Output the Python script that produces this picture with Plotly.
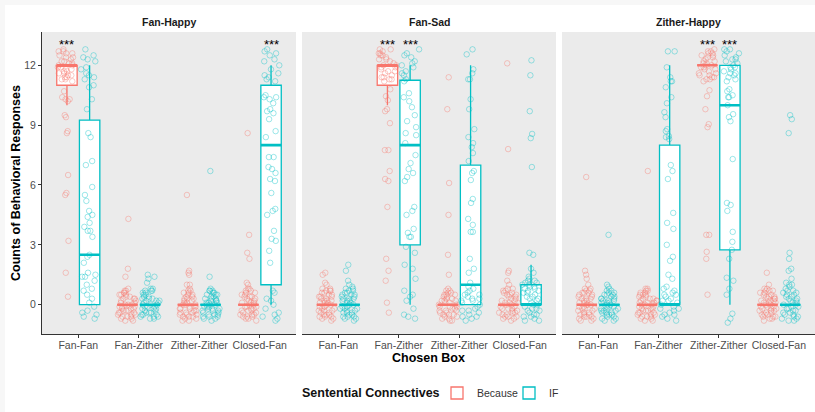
import plotly.graph_objects as go

CATEGORIES = ["Fan-Fan", "Fan-Zither", "Zither-Zither", "Closed-Fan"]
FACETS = ["Fan-Happy", "Fan-Sad", "Zither-Happy"]
GROUPS = ["Because", "IF"]
Y_TICKS = [0, 3, 6, 9, 12]
LEGEND_TITLE = "Sentential Connectives"

# ---------- box statistics (per facet, per connective; order = CATEGORIES) ----------
fh_because_q1 = [11, 0, 0, 0]
fh_because_med = [12, 0, 0, 0]
fh_because_q3 = [12, 0, 0, 0]
fh_because_lo = [10, 0, 0, 0]
fh_because_hi = [12, 0, 0, 0]
fh_if_q1 = [0, 0, 0, 1]
fh_if_med = [2.5, 0, 0, 8]
fh_if_q3 = [9.25, 0, 0, 11]
fh_if_lo = [0, 0, 0, 0]
fh_if_hi = [12, 0, 0, 12]

fs_because_q1 = [0, 11, 0, 0]
fs_because_med = [0, 12, 0, 0]
fs_because_q3 = [0, 12, 0, 0]
fs_because_lo = [0, 10, 0, 0]
fs_because_hi = [0, 12, 0, 0]
fs_if_q1 = [0, 3, 0, 0]
fs_if_med = [0, 8, 1, 0]
fs_if_q3 = [0, 11.25, 7, 1]
fs_if_lo = [0, 0, 0, 0]
fs_if_hi = [0, 12, 12, 2]

zh_because_q1 = [0, 0, 12, 0]
zh_because_med = [0, 0, 12, 0]
zh_because_q3 = [0, 0, 12, 0]
zh_because_lo = [0, 0, 12, 0]
zh_because_hi = [0, 0, 12, 0]
zh_if_q1 = [0, 0, 2.75, 0]
zh_if_med = [0, 0, 10, 0]
zh_if_q3 = [0, 8, 12, 0]
zh_if_lo = [0, 0, 0, 0]
zh_if_hi = [0, 12, 12, 0]

# ---------- individual responses as plotted ----------
fh_because_fanfan = [12.7,12.6,12.8,12.5,12.4,12.3,12.2,12.1,12.0,11.9,11.9,11.8,11.7,11.6,11.5,11.5,11.4,11.3,11.2,12.6,12.4,12.2,12.0,11.8,11.6,11.3,12.7,12.1,11.7,11.4,10.7,10.4,10.3,10.3,10.2,9.5,9.4,8.7,8.6,6.5,5.6,5.5,3.2,1.6,0.4]
fh_if_fanfan = [12.8,12.5,12.4,12.3,12.2,11.9,11.8,11.6,11.5,11.4,11.3,11.0,10.9,10.3,9.8,8.6,8.4,7.2,7.0,5.9,5.5,5.2,4.7,4.5,4.4,4.1,3.9,3.7,3.7,3.4,2.5,2.4,2.1,1.6,1.5,1.4,1.4,1.2,1.0,0.8,0.7,0.5,0.3,0.1,-0.1,-0.3,-0.4,-0.5,-0.6,-0.7]
fh_because_fanzither = [4.3,1.8,1.4,0.8,0.7,0.6,0.5,0.5,0.4,0.3,0.3,0.2,0.1,0.1,0.0,0.0,-0.1,-0.1,-0.2,-0.2,-0.3,-0.3,-0.4,-0.4,-0.5,-0.5,-0.6,-0.6,-0.7,-0.7,-0.8,0.7,0.6,0.4,0.2,-0.1,-0.3,-0.5,-0.6,-0.8,0.5,0.3,-0.2,-0.4,0.0]
fh_if_fanzither = [1.5,1.4,1.3,1.1,0.8,0.7,0.7,0.6,0.5,0.4,0.3,0.3,0.2,0.1,0.0,-0.1,-0.1,-0.2,-0.3,-0.4,-0.4,-0.5,-0.6,-0.6,-0.7,-0.7,0.6,0.4,0.2,0.0,-0.2,-0.5,-0.6,0.8,0.5,0.1,-0.3,-0.5,0.7,-0.1,0.3,-0.4,0.0,0.2,-0.2]
fh_because_zitherzither = [5.5,1.7,1.6,1.5,1.0,1.0,0.8,0.7,0.6,0.6,0.5,0.4,0.3,0.3,0.2,0.1,0.0,0.0,-0.1,-0.2,-0.2,-0.3,-0.4,-0.4,-0.5,-0.5,-0.6,-0.6,-0.7,-0.8,0.7,0.5,0.2,-0.1,-0.3,-0.5,-0.7,0.4,0.1,-0.2,-0.6,0.3,0.0,-0.4,-0.8]
fh_if_zitherzither = [6.7,1.4,0.8,0.7,0.7,0.6,0.5,0.5,0.4,0.3,0.3,0.2,0.1,0.1,0.0,-0.1,-0.1,-0.2,-0.3,-0.3,-0.4,-0.5,-0.5,-0.6,-0.7,-0.7,-0.8,0.6,0.4,0.2,0.0,-0.2,-0.4,-0.6,0.5,0.3,0.0,-0.3,-0.5,0.7,0.1,-0.2,-0.6,0.2,-0.1]
fh_because_closedfan = [8.6,3.5,2.6,2.3,1.1,1.0,0.8,0.7,0.7,0.6,0.5,0.4,0.4,0.3,0.2,0.1,0.1,0.0,-0.1,-0.1,-0.2,-0.3,-0.3,-0.4,-0.5,-0.5,-0.6,-0.7,-0.7,-0.8,0.6,0.3,0.0,-0.2,-0.4,-0.6,0.5,0.2,-0.1,-0.5,0.8,-0.3,0.1,-0.6,0.4]
fh_if_closedfan = [12.8,12.7,12.6,12.5,12.3,12.2,12.0,11.8,11.6,11.5,11.4,11.3,11.2,10.5,10.4,10.3,10.4,10.1,9.8,9.7,9.6,9.3,8.7,8.4,7.4,7.4,6.9,6.8,6.6,6.3,6.2,5.6,4.8,4.7,4.5,3.7,3.3,3.2,2.7,2.1,0.7,0.6,0.3,0.2,0.0,-0.2,-0.4,-0.5,-0.6,-0.7,-0.8]

fs_because_fanfan = [1.6,1.5,1.1,1.0,0.8,0.7,0.7,0.6,0.5,0.4,0.4,0.3,0.2,0.1,0.1,0.0,-0.1,-0.1,-0.2,-0.3,-0.3,-0.4,-0.5,-0.5,-0.6,-0.6,-0.7,-0.8,0.6,0.5,0.3,0.2,0.0,-0.2,-0.4,-0.6,0.7,0.4,0.1,-0.3,-0.5,0.8,-0.1,-0.7,0.2]
fs_if_fanfan = [2.0,1.7,1.2,1.0,0.9,0.8,0.7,0.6,0.5,0.5,0.4,0.3,0.2,0.2,0.1,0.0,-0.1,-0.2,-0.2,-0.3,-0.4,-0.4,-0.5,-0.6,-0.6,-0.7,-0.7,-0.8,0.6,0.4,0.3,0.1,-0.1,-0.3,-0.5,0.7,0.5,0.2,0.0,-0.2,-0.6,0.8,0.3,-0.4,-0.1]
fs_because_fanzither = [12.8,12.8,12.7,12.6,12.5,12.4,12.3,12.2,12.1,12.0,11.9,11.8,11.7,11.6,11.5,11.4,11.3,11.2,12.6,12.3,12.0,11.7,11.4,12.5,11.9,11.3,10.45,10.25,10.8,9.8,9.7,9.1,7.75,7.75,6.7,6.3,6.2,4.9,2.3,1.7,1.2,0.1,-0.4]
fs_if_fanzither = [12.8,12.6,12.5,12.4,12.2,12.1,12.0,11.9,11.7,11.6,11.5,11.3,11.2,10.6,10.4,10.2,9.9,9.5,9.2,8.9,8.6,8.5,8.1,7.5,7.1,6.8,6.6,6.4,6.2,4.9,4.7,4.5,3.8,3.6,3.4,3.4,2.9,2.6,2.0,1.8,1.3,0.7,0.5,0.4,0.2,-0.2,-0.5,-0.6,-0.7]
fs_because_zitherzither = [11.4,9.8,6.1,4.5,2.5,1.5,0.8,0.7,0.6,0.5,0.5,0.4,0.3,0.2,0.2,0.1,0.0,-0.1,-0.1,-0.2,-0.3,-0.3,-0.4,-0.5,-0.5,-0.6,-0.7,-0.7,-0.8,0.6,0.4,0.1,-0.2,-0.4,-0.6,0.7,0.3,0.0,-0.3,-0.5,0.5,-0.1,-0.8,0.2]
fs_if_zitherzither = [12.8,12.55,11.8,11.6,11.3,11.3,10.3,9.8,8.8,8.4,8.1,7.9,7.6,7.2,6.7,6.6,6.25,5.3,5.1,4.3,4.0,3.65,3.65,2.3,1.8,1.6,1.1,0.9,0.8,0.7,0.6,0.5,0.4,0.3,0.2,0.1,0.0,-0.1,-0.2,-0.3,-0.4,-0.5,-0.6,-0.7,-0.8,0.5,0.2,-0.3,-0.6,0.3]
fs_because_closedfan = [12.1,7.8,1.7,1.6,1.2,1.0,0.8,0.7,0.6,0.5,0.5,0.4,0.3,0.2,0.1,0.1,0.0,-0.1,-0.2,-0.2,-0.3,-0.4,-0.4,-0.5,-0.6,-0.6,-0.7,-0.8,0.7,0.4,0.2,0.0,-0.2,-0.5,0.6,0.3,-0.1,-0.3,-0.7,0.5,0.1,-0.4,-0.6,0.8]
fs_if_closedfan = [12.25,11.5,9.7,8.56,8.35,6.9,2.6,2.5,1.8,1.6,1.4,1.3,1.2,1.1,1.0,0.9,0.8,0.7,0.6,1.2,1.0,0.8,0.5,0.4,0.3,0.2,0.1,0.0,-0.1,-0.2,-0.3,-0.4,-0.5,-0.6,-0.7,-0.8,0.6,0.3,0.0,-0.3,-0.6,-0.8,0.4,-0.2,-0.5,0.9,1.1,0.7]

zh_because_fanfan = [6.4,1.7,1.5,1.3,1.0,0.8,0.7,0.6,0.6,0.5,0.4,0.3,0.3,0.2,0.1,0.0,0.0,-0.1,-0.2,-0.2,-0.3,-0.4,-0.5,-0.5,-0.6,-0.7,-0.7,-0.8,0.7,0.5,0.2,0.0,-0.2,-0.4,-0.6,0.6,0.4,0.1,-0.3,-0.5,0.8,-0.1,-0.6,0.3,-0.8]
zh_if_fanfan = [3.5,1.0,0.9,0.8,0.7,0.6,0.5,0.5,0.4,0.3,0.2,0.2,0.1,0.0,-0.1,-0.1,-0.2,-0.3,-0.3,-0.4,-0.5,-0.5,-0.6,-0.7,-0.7,-0.8,0.6,0.4,0.3,0.1,-0.1,-0.3,-0.4,-0.6,0.5,0.2,0.0,-0.2,-0.5,0.7,0.3,-0.4,-0.8,0.1,-0.2]
zh_because_fanzither = [6.7,0.8,0.8,0.7,0.6,0.5,0.5,0.4,0.3,0.2,0.2,0.1,0.0,0.0,-0.1,-0.2,-0.2,-0.3,-0.4,-0.4,-0.5,-0.6,-0.6,-0.7,-0.8,-0.8,0.6,0.4,0.3,0.1,-0.1,-0.3,-0.5,-0.7,0.7,0.5,0.2,-0.2,-0.4,-0.6,0.3,0.0,-0.3,-0.5,0.1]
zh_if_fanzither = [12.7,12.7,11.9,11.4,11.2,11.2,10.9,10.4,10.1,9.65,9.4,8.8,8.7,8.45,8.4,8.3,7.0,6.7,6.3,4.6,4.1,3.8,3.0,2.4,2.2,1.5,1.3,0.9,0.8,0.7,0.6,0.5,0.4,0.3,0.2,0.1,0.0,-0.1,-0.2,-0.3,-0.4,-0.5,-0.6,-0.7,-0.8,0.5,0.2,-0.2,-0.5]
zh_because_zitherzither = [12.8,12.7,12.6,12.6,12.5,12.4,12.3,12.2,12.1,12.0,12.0,11.9,11.8,11.7,11.6,11.5,11.4,11.3,11.2,12.7,12.4,12.1,11.8,11.5,11.3,12.5,12.2,11.9,11.6,11.4,10.75,10.45,9.8,8.9,9.05,3.5,3.5,2.65,2.3,0.5]
zh_if_zitherzither = [12.8,12.8,12.6,12.5,12.4,12.3,12.2,12.1,12.0,11.9,11.8,11.7,11.6,11.5,11.4,11.3,11.2,12.7,12.3,11.9,11.6,10.8,10.7,10.5,10.4,10.4,10.0,9.55,9.4,9.2,7.3,5.1,5.0,4.7,3.65,3.15,2.75,2.3,1.35,1.2,0.8,0.5,-0.45,-0.7,-0.9]
zh_because_closedfan = [1.6,1.0,0.8,0.7,0.7,0.6,0.5,0.4,0.4,0.3,0.2,0.1,0.1,0.0,-0.1,-0.1,-0.2,-0.3,-0.3,-0.4,-0.5,-0.5,-0.6,-0.7,-0.7,-0.8,0.6,0.5,0.3,0.2,0.0,-0.2,-0.4,-0.6,0.7,0.4,0.1,-0.3,-0.5,0.8,-0.1,-0.6,0.2,-0.2,0.3]
zh_if_closedfan = [9.5,9.3,8.6,2.6,2.3,1.8,1.7,1.3,1.1,1.0,0.9,0.8,0.7,0.6,0.5,0.4,0.3,0.2,0.1,0.0,-0.1,-0.2,-0.3,-0.4,-0.5,-0.6,-0.7,-0.8,0.6,0.4,0.2,0.0,-0.2,-0.4,-0.6,0.7,1.0,0.3,-0.1,-0.3,-0.5,-0.7,0.5,0.1,-0.8]

# significance markers: (facet index, category, group)
STAR_FACETS = [0, 0, 1, 1, 2, 2]
STAR_CATS = ["Fan-Fan", "Closed-Fan", "Fan-Zither", "Fan-Zither", "Zither-Zither", "Zither-Zither"]
STAR_GROUPS = ["Because", "IF", "Because", "IF", "Because", "IF"]
STAR_TEXT = "***"

# ---------- assemble ----------
stats = {
    (0, "Because"): (fh_because_q1, fh_because_med, fh_because_q3, fh_because_lo, fh_because_hi),
    (0, "IF"): (fh_if_q1, fh_if_med, fh_if_q3, fh_if_lo, fh_if_hi),
    (1, "Because"): (fs_because_q1, fs_because_med, fs_because_q3, fs_because_lo, fs_because_hi),
    (1, "IF"): (fs_if_q1, fs_if_med, fs_if_q3, fs_if_lo, fs_if_hi),
    (2, "Because"): (zh_because_q1, zh_because_med, zh_because_q3, zh_because_lo, zh_because_hi),
    (2, "IF"): (zh_if_q1, zh_if_med, zh_if_q3, zh_if_lo, zh_if_hi),
}
points = {
    (0, "Because"): [fh_because_fanfan, fh_because_fanzither, fh_because_zitherzither, fh_because_closedfan],
    (0, "IF"): [fh_if_fanfan, fh_if_fanzither, fh_if_zitherzither, fh_if_closedfan],
    (1, "Because"): [fs_because_fanfan, fs_because_fanzither, fs_because_zitherzither, fs_because_closedfan],
    (1, "IF"): [fs_if_fanfan, fs_if_fanzither, fs_if_zitherzither, fs_if_closedfan],
    (2, "Because"): [zh_because_fanfan, zh_because_fanzither, zh_because_zitherzither, zh_because_closedfan],
    (2, "IF"): [zh_if_fanfan, zh_if_fanzither, zh_if_zitherzither, zh_if_closedfan],
}

COLORS = {"Because": "#F8766D", "IF": "#00BFC4"}
PT_COLORS = {"Because": "rgba(248,118,109,0.38)", "IF": "rgba(0,191,196,0.38)"}
FONT = "Liberation Sans, Arial, sans-serif"

fig = go.Figure()
for f in range(3):
    xa = "x" if f == 0 else f"x{f+1}"
    ya = "y" if f == 0 else f"y{f+1}"
    for g in GROUPS:
        q1, med, q3, lo, hi = stats[(f, g)]
        fig.add_trace(go.Box(
            x=CATEGORIES, q1=q1, median=med, q3=q3, lowerfence=lo, upperfence=hi,
            name=g, legendgroup=g, showlegend=(f == 0), offsetgroup=g,
            xaxis=xa, yaxis=ya, boxpoints=False,
            line=dict(color=COLORS[g], width=1.3), fillcolor="white",
            whiskerwidth=0, hoverinfo="skip"))
    for g in GROUPS:
        _, med, _, _, _ = stats[(f, g)]
        fig.add_trace(go.Box(
            x=CATEGORIES, q1=med, median=med, q3=med, lowerfence=med, upperfence=med,
            name=g, legendgroup=g, showlegend=False, offsetgroup=g,
            xaxis=xa, yaxis=ya, boxpoints=False,
            line=dict(color=COLORS[g], width=2.6), fillcolor="rgba(0,0,0,0)",
            whiskerwidth=0, hoverinfo="skip"))
    for g in GROUPS:
        xs, ys = [], []
        for cat, vals in zip(CATEGORIES, points[(f, g)]):
            xs += [cat] * len(vals)
            ys += vals
        fig.add_trace(go.Box(
            x=xs, y=ys, name=g, legendgroup=g, showlegend=False, offsetgroup=g,
            xaxis=xa, yaxis=ya, boxpoints="all", jitter=0.95, pointpos=0,
            line=dict(color="rgba(0,0,0,0)", width=0), fillcolor="rgba(0,0,0,0)",
            whiskerwidth=0, hoverinfo="skip",
            marker=dict(symbol="circle-open", size=5.5, color=PT_COLORS[g],
                        line=dict(width=1, color=PT_COLORS[g]))))

W, H = 815, 412
ML, MR, MT, MB = 42, 0, 32, 78
PW = W - ML - MR
PH = H - MT - MB
domains = [[0, 254 / PW], [260 / PW, 514 / PW], [520 / PW, 1.0]]
LEG_Y = -(393 - (MT + PH)) / PH

layout = dict(
    width=W, height=H,
    margin=dict(l=ML, r=MR, t=MT, b=MB, pad=0),
    paper_bgcolor="white", plot_bgcolor="#EBEBEB",
    boxmode="group", boxgap=0.25, boxgroupgap=0.1,
    font=dict(family=FONT, color="#4D4D4D"),
    showlegend=True,
    legend=dict(orientation="h", x=(437 - ML) / PW, xanchor="left", y=LEG_Y, yanchor="middle",
                font=dict(size=10.5, color="#333333"), itemwidth=30,
                entrywidth=27, entrywidthmode="pixels",
                bgcolor="rgba(0,0,0,0)"),
)
for f in range(3):
    key = "xaxis" if f == 0 else f"xaxis{f+1}"
    ykey = "yaxis" if f == 0 else f"yaxis{f+1}"
    layout[key] = dict(
        domain=domains[f], anchor="y" if f == 0 else f"y{f+1}",
        type="category", categoryorder="array", categoryarray=CATEGORIES,
        range=[-0.6, 3.6], showgrid=False, zeroline=False,
        showline=True, linecolor="#333333", linewidth=1.1,
        ticks="outside", ticklen=3, tickcolor="#333333", tickwidth=1,
        ticklabelstandoff=-2,
        tickfont=dict(size=10.5, color="#4D4D4D", family=FONT), fixedrange=True)
    layout[ykey] = dict(
        domain=[0, 1], anchor="x" if f == 0 else f"x{f+1}",
        range=[-1.47, 13.67], showgrid=False, zeroline=False,
        tickvals=Y_TICKS, ticktext=[str(t) for t in Y_TICKS],
        showline=(f == 0), linecolor="#333333", linewidth=1.1,
        ticks="outside" if f == 0 else "", ticklen=3, tickcolor="#333333",
        showticklabels=(f == 0),
        tickfont=dict(size=10.5, color="#4D4D4D", family=FONT), fixedrange=True)
    if f > 0:
        layout[ykey]["matches"] = "y"

fig.update_layout(**layout)

ann = []
for f, name in enumerate(FACETS):
    d = domains[f]
    ann.append(dict(text=f"<b>{name}</b>", xref="paper", yref="paper",
                    x=(d[0] + d[1]) / 2, y=1 + 10 / PH, xanchor="center", yanchor="middle",
                    showarrow=False, font=dict(size=10.5, color="#1A1A1A", family=FONT)))
ann.append(dict(text="<b>Chosen Box</b>", xref="paper", yref="paper", x=0.5, y=-24 / PH,
                xanchor="center", yanchor="middle", showarrow=False,
                font=dict(size=12.5, color="#000000", family=FONT)))
ann.append(dict(text="<b>Counts of Behavioral Responses</b>", xref="paper", yref="paper",
                x=-26 / PW, y=0.5, xanchor="center", yanchor="middle", textangle=-90,
                showarrow=False, font=dict(size=12.5, color="#000000", family=FONT)))
ann.append(dict(text=f"<b>{LEGEND_TITLE}</b>", xref="paper", yref="paper",
                x=(442 - ML) / PW, y=LEG_Y, xanchor="right", yanchor="middle", showarrow=False,
                font=dict(size=12.5, color="#111111", family=FONT)))
for f, cat, g in zip(STAR_FACETS, STAR_CATS, STAR_GROUPS):
    xi = CATEGORIES.index(cat) + (-0.1875 if g == "Because" else 0.1875)
    ann.append(dict(text=STAR_TEXT, x=xi, y=13.05,
                    xref="x" if f == 0 else f"x{f+1}", yref="y" if f == 0 else f"y{f+1}",
                    xanchor="center", yanchor="middle", showarrow=False,
                    font=dict(size=13, color="#000000", family=FONT)))
fig.update_layout(annotations=ann)

# light outer frame strips (left and top) of the original image
fig.add_shape(type="rect", xref="paper", yref="paper", x0=-ML / PW, x1=-(ML - 5) / PW,
              y0=-MB / PH, y1=1 + MT / PH, fillcolor="#F7F7F7", line=dict(width=0), layer="below")
fig.add_shape(type="rect", xref="paper", yref="paper", x0=-ML / PW, x1=1,
              y0=1 + (MT - 5) / PH, y1=1 + MT / PH, fillcolor="#F7F7F7", line=dict(width=0), layer="below")

fig.write_html("out.html", config={"displayModeBar": False},
               post_script="document.body.style.margin='0';document.body.style.overflow='hidden';")
